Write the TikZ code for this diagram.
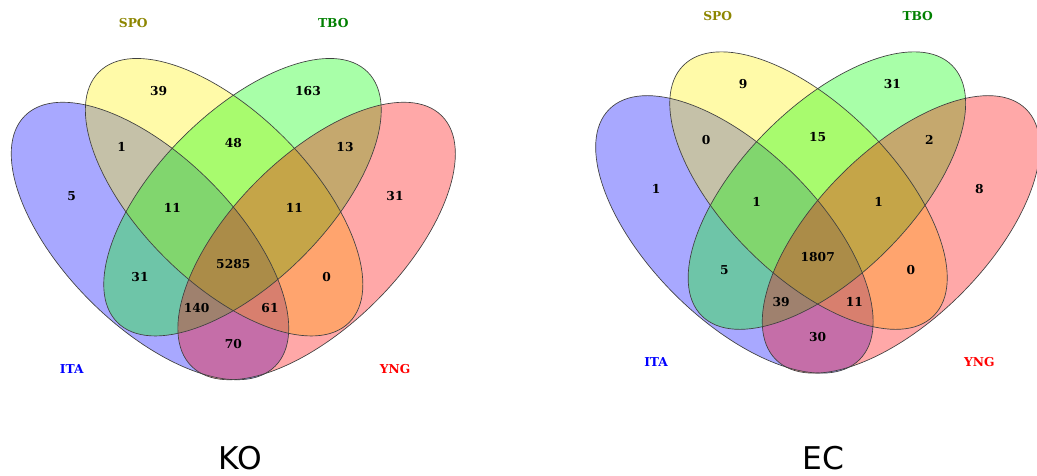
\documentclass[tikz,border=0pt]{standalone}
\usepackage{fontspec}
\setmainfont{DejaVu Serif}
\setsansfont{DejaVu Sans}
\begin{document}
\begin{tikzpicture}[x=0.75pt,y=-0.75pt,
  setoutline/.style={line width=0.5pt, draw=black!75},
  count/.style={font=\fontsize{9.2}{11}\selectfont\bfseries, inner sep=0pt},
  catname/.style={font=\fontsize{9.2}{11}\selectfont\bfseries, inner sep=0pt, text=#1},
  paneltitle/.style={font=\sffamily\fontsize{23.5}{28}\selectfont, inner sep=0pt},
  venn/.pic={
    % translucent fills first, outlines on top
    \foreach \cx/\cy/\ang/\col in {150/241/-45/blue, 224.1/197.2/-45/yellow,
                                   242.5/197.2/45/green, 316.6/241/45/red}
      \fill[\col, fill opacity=0.34, shift={(\cx,\cy)}, rotate=\ang]
        (0,0) ellipse [x radius=177, y radius=84.6];
    \foreach \cx/\cy/\ang in {150/241/-45, 224.1/197.2/-45,
                              242.5/197.2/45, 316.6/241/45}
      \draw[setoutline, shift={(\cx,\cy)}, rotate=\ang]
        (0,0) ellipse [x radius=177, y radius=84.6];
  }
]
\clip (0,0) rectangle (1037,475);
\fill[white] (0,0) rectangle (1037,475);

% ---------- KO ----------
\pic at (0,0) {venn};
\foreach \n/\x/\y/\v in {s/158.7/90.7/39, t/308/90.7/163,
    is/121.7/146.7/1, st/233.3/143.3/48, ty/345/146.7/13,
    i/71.7/196/5, y/395/196/31,
    ist/172.3/208.3/11, sty/294.3/208.3/11,
    it/140/276.7/31, all/233.3/264/5285, sy/326.6/276.7/0,
    ity/196.7/308.3/140, isy/270/308.3/61,
    iy/233.3/344/70}
  \node[count] (ko-\n) at (\x,\y) {\v};
\node[catname={olive}] (ko-spo) at (133.3,22.7) {SPO};
\node[catname={green!50!black}] (ko-tbo) at (333.3,22.7) {TBO};
\node[catname={blue}] (ko-ita) at (71.7,369) {ITA};
\node[catname={red}] (ko-yng) at (395,369) {YNG};
\node[paneltitle] (ko-title) at (240,458) {KO};

% ---------- EC ----------
\begin{scope}[shift={(584.4,-6.6)}]
\pic at (0,0) {venn};
\foreach \n/\x/\y/\v in {s/158.7/90.7/9, t/308/90.7/31,
    is/121.7/146.7/0, st/233.3/143.3/15, ty/345/146.7/2,
    i/71.7/196/1, y/395/196/8,
    ist/172.3/208.3/1, sty/294.3/208.3/1,
    it/140/276.7/5, all/233.3/264/1807, sy/326.6/276.7/0,
    ity/196.7/308.3/39, isy/270/308.3/11,
    iy/233.3/344/30}
  \node[count] (ec-\n) at (\x,\y) {\v};
\node[catname={olive}] (ec-spo) at (133.3,22.7) {SPO};
\node[catname={green!50!black}] (ec-tbo) at (333.3,22.7) {TBO};
\node[catname={blue}] (ec-ita) at (71.7,369) {ITA};
\node[catname={red}] (ec-yng) at (395,369) {YNG};
\end{scope}
\node[paneltitle] (ec-title) at (823.5,458) {EC};
\end{tikzpicture}
\end{document}
